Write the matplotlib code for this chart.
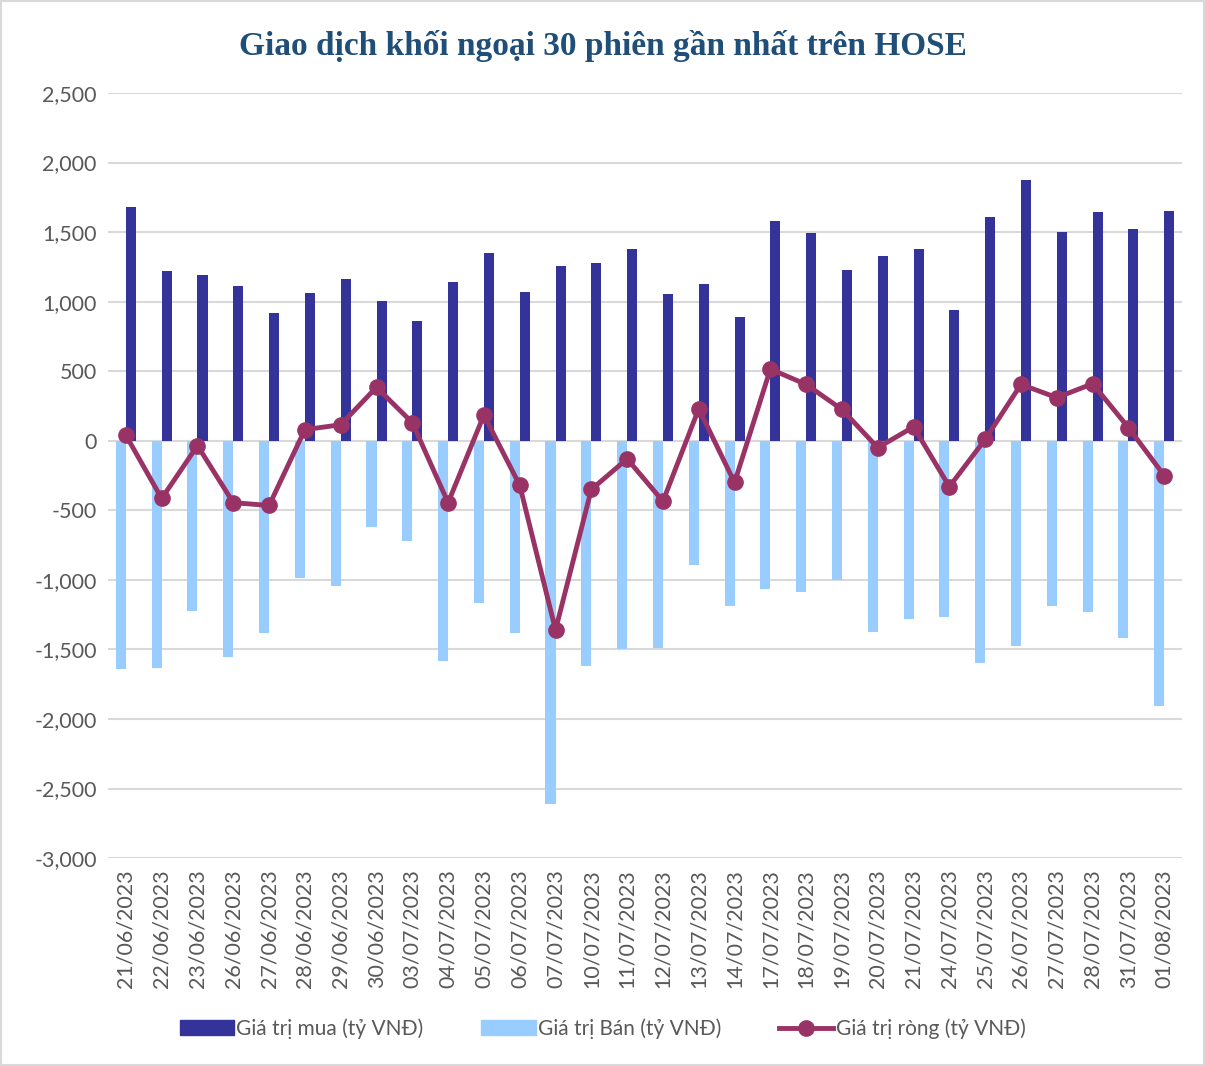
import numpy as np
import matplotlib.pyplot as plt
from matplotlib.lines import Line2D
from matplotlib.patches import Patch
from matplotlib.ticker import FuncFormatter

ngay = ["21/06/2023", "22/06/2023", "23/06/2023", "26/06/2023", "27/06/2023",
        "28/06/2023", "29/06/2023", "30/06/2023", "03/07/2023", "04/07/2023",
        "05/07/2023", "06/07/2023", "07/07/2023", "10/07/2023", "11/07/2023",
        "12/07/2023", "13/07/2023", "14/07/2023", "17/07/2023", "18/07/2023",
        "19/07/2023", "20/07/2023", "21/07/2023", "24/07/2023", "25/07/2023",
        "26/07/2023", "27/07/2023", "28/07/2023", "31/07/2023", "01/08/2023"]

gia_tri_mua = [1680, 1220, 1190, 1110, 915, 1060, 1160, 1005, 860, 1140,
               1350, 1070, 1255, 1275, 1380, 1055, 1125, 890, 1580, 1495,
               1225, 1325, 1380, 940, 1605, 1875, 1500, 1645, 1520, 1655]

gia_tri_ban = [-1640, -1630, -1225, -1555, -1380, -985, -1045, -620, -720, -1580,
               -1165, -1385, -2610, -1620, -1500, -1490, -890, -1190, -1065, -1085,
               -1000, -1375, -1280, -1270, -1600, -1475, -1190, -1230, -1420, -1905]

gia_tri_rong = [40, -415, -35, -445, -465, 80, 115, 385, 130, -445,
                185, -320, -1360, -350, -130, -435, 230, -300, 515, 405,
                225, -50, 100, -330, 10, 405, 310, 410, 95, -250]

mau_mua = "#343399"
mau_ban = "#99CCFF"
mau_rong = "#993366"

plt.rcParams['font.family'] = ['Lato', 'DejaVu Sans']

fig = plt.figure(figsize=(12.05, 10.66), dpi=100)
ax = fig.add_axes([0.0896, 0.195, 0.8914, 0.7178])

x = np.arange(len(ngay))
w = 0.28
ax.bar(x + w / 2, gia_tri_mua, width=w, color=mau_mua, zorder=2)
ax.bar(x - w / 2, gia_tri_ban, width=w, color=mau_ban, zorder=2)
ax.plot(x, gia_tri_rong, color=mau_rong, lw=3.5, marker='o', ms=11, zorder=3)

ax.set_xlim(-0.5, len(ngay) - 0.5)
ax.set_ylim(-3000, 2500)
ax.set_yticks(np.arange(-3000, 2501, 500))
ax.yaxis.set_major_formatter(FuncFormatter(lambda v, p: f"{int(v):,}"))
ax.set_xticks(x)
ax.set_xticklabels(ngay, rotation=90)
ax.tick_params(axis='both', length=0, labelsize=15.5, colors="#595959", pad=8)
ax.grid(axis='y', color="#D9D9D9", lw=1.5, zorder=0)
for s in ax.spines.values():
    s.set_visible(False)

fig.text(0.5, 0.957, "Giao dịch khối ngoại 30 phiên gần nhất trên HOSE",
         ha='center', va='center', fontsize=24, fontweight='bold',
         color="#1F4E79", family=['Liberation Serif', 'DejaVu Serif'])

handles = [Patch(color=mau_mua, label="Giá trị mua (tỷ VNĐ)"),
           Patch(color=mau_ban, label="Giá trị Bán (tỷ VNĐ)"),
           Line2D([], [], color=mau_rong, lw=3.5, marker='o', ms=11,
                  label="Giá trị ròng (tỷ VNĐ)")]
leg = fig.legend(handles=handles, loc='center', bbox_to_anchor=(0.5, 0.035),
                 ncol=3, frameon=False, fontsize=15, handlelength=2.6,
                 handletextpad=0.1, columnspacing=2.8)
for t in leg.get_texts():
    t.set_color("#595959")

fig.patches.append(plt.Rectangle((0.001, 0.001), 0.998, 0.998, transform=fig.transFigure,
                                 fill=False, edgecolor="#D9D9D9", lw=1.5))

fig.savefig("out.png", dpi=100)
